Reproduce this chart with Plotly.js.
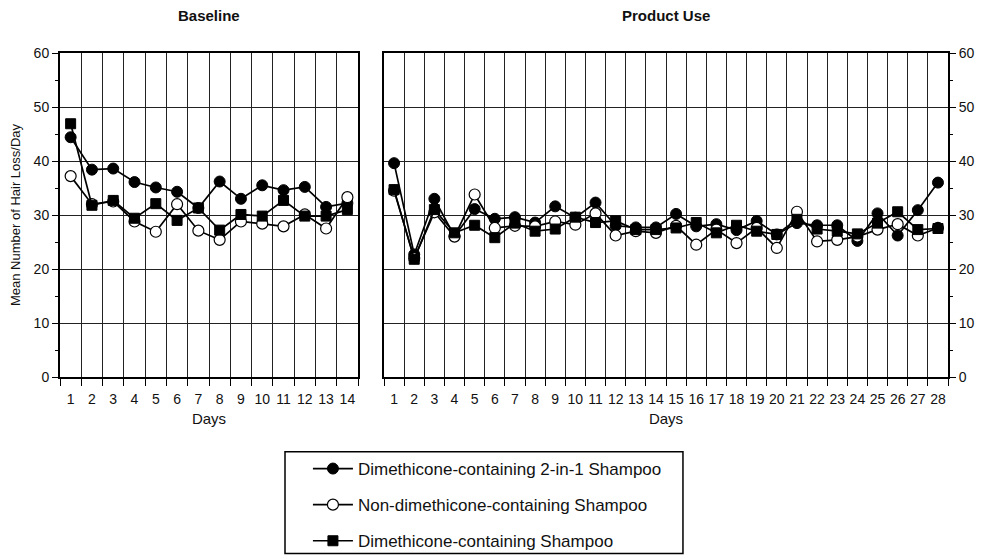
<!DOCTYPE html>
<html>
<head>
<meta charset="utf-8">
<script src="https://cdn.plot.ly/plotly-3.0.1.min.js"></script>
<style>html,body{margin:0;padding:0;background:#fff;}#chart{width:981px;height:559px;}</style>
</head>
<body>
<div id="chart"></div>
<script>
// Baseline period (days 1-14)
const baseDays = [1,2,3,4,5,6,7,8,9,10,11,12,13,14];
const base2in1 = [44.4, 38.4, 38.6, 36.1, 35.1, 34.3, 31.3, 36.2, 33.0, 35.5, 34.6, 35.2, 31.5, 32.2];
const baseNonDim = [37.2, 32.0, 32.5, 28.8, 26.9, 32.0, 27.1, 25.4, 28.8, 28.4, 27.9, 30.1, 27.5, 33.3];
const baseDim = [46.9, 31.8, 32.7, 29.4, 32.1, 29.0, 31.3, 27.2, 30.1, 29.8, 32.7, 29.8, 29.8, 31.0];

// Product use period (days 1-28)
const prodDays = [1,2,3,4,5,6,7,8,9,10,11,12,13,14,15,16,17,18,19,20,21,22,23,24,25,26,27,28];
const prod2in1 = [39.6, 22.7, 33.0, 26.1, 31.1, 29.3, 29.6, 28.6, 31.6, 29.5, 32.3, 28.0, 27.7, 27.7, 30.2, 27.9, 28.3, 27.2, 28.9, 26.4, 28.5, 28.1, 28.1, 25.2, 30.3, 26.2, 30.9, 36.0];
const prodNonDim = [34.5, 22.0, 30.5, 26.0, 33.8, 27.6, 28.0, 27.9, 28.8, 28.2, 30.3, 26.2, 27.0, 26.7, 28.0, 24.5, 27.3, 24.8, 27.6, 23.9, 30.6, 25.1, 25.4, 26.0, 27.3, 28.3, 26.2, 27.6];
const prodDim = [34.7, 21.8, 31.0, 26.7, 28.1, 25.8, 28.5, 27.0, 27.4, 29.6, 28.6, 28.9, 27.3, 27.3, 27.6, 28.6, 26.7, 28.1, 27.0, 26.4, 29.2, 27.4, 27.0, 26.5, 28.5, 30.6, 27.3, 27.5];

const seriesNames = ['Dimethicone-containing 2-in-1 Shampoo', 'Non-dimethicone-containing Shampoo', 'Dimethicone-containing Shampoo'];
const panelTitles = ['Baseline', 'Product Use'];
const yTitle = 'Mean Number of Hair Loss/Day';
const xTitle = 'Days';

const FONT = 'Liberation Sans, Arial, Helvetica, sans-serif';
const lineStyle = {color: '#000', width: 1.7};
const markerStyles = [
  {symbol: 'circle', size: 11, color: '#000', line: {color: '#000', width: 1}},
  {symbol: 'circle', size: 11, color: '#fff', line: {color: '#000', width: 1.2}},
  {symbol: 'square', size: 10, color: '#000', line: {color: '#000', width: 1}}
];

const baseSeries = [base2in1, baseNonDim, baseDim];
const prodSeries = [prod2in1, prodNonDim, prodDim];
const traces = [];
for (let i = 0; i < 3; i++) {
  traces.push({
    x: baseDays, y: baseSeries[i], xaxis: 'x', yaxis: 'y',
    type: 'scatter', mode: 'lines+markers', name: seriesNames[i],
    legendgroup: 'g' + i, showlegend: true,
    line: lineStyle, marker: markerStyles[i], cliponaxis: false
  });
  traces.push({
    x: prodDays, y: prodSeries[i], xaxis: 'x2', yaxis: 'y2',
    type: 'scatter', mode: 'lines+markers', name: seriesNames[i],
    legendgroup: 'g' + i, showlegend: false,
    line: lineStyle, marker: markerStyles[i], cliponaxis: false
  });
}

const tickFont = {family: FONT, size: 14, color: '#111'};
function xAxis(domain, days, anchor) {
  return {
    domain: domain, anchor: anchor, range: [0.5, days.length + 0.5],
    tickmode: 'array', tickvals: days, ticktext: days.map(String),
    ticks: '', showgrid: false, zeroline: false,
    showline: true, linecolor: '#000', linewidth: 2, mirror: true,
    tickfont: tickFont, ticklabelstandoff: 8,
    title: {text: xTitle, font: {family: FONT, size: 15, color: '#111'}, standoff: 8},
    minor: {tickmode: 'linear', tick0: 0.5, dtick: 1, ticks: 'outside', ticklen: 7, tickcolor: '#000', tickwidth: 1,
            showgrid: true, gridcolor: '#222', gridwidth: 1}
  };
}
function yAxis(anchor, side) {
  return {
    anchor: anchor, side: side, range: [0, 60], domain: [0, 1],
    tickmode: 'linear', tick0: 0, dtick: 10, ticks: 'outside', ticklen: 6, tickcolor: '#000', tickwidth: 1,
    showgrid: true, gridcolor: '#222', gridwidth: 1, zeroline: false,
    showline: true, linecolor: '#000', linewidth: 2, mirror: true,
    tickfont: tickFont,
    minor: {tickmode: 'linear', tick0: 0, dtick: 5, ticks: 'outside', ticklen: 3, tickcolor: '#000', showgrid: false}
  };
}

const leftDom = [0, 0.3236];
const rightDom = [0.3518, 0.9642];
const layout = {
  width: 981, height: 559,
  margin: {l: 60, r: 0, t: 53, b: 181},
  paper_bgcolor: '#fff', plot_bgcolor: '#fff',
  font: {family: FONT, color: '#111'},
  xaxis: xAxis(leftDom, baseDays, 'y'),
  xaxis2: xAxis(rightDom, prodDays, 'y2'),
  yaxis: Object.assign(yAxis('x', 'left'), {title: {text: yTitle, font: {family: FONT, size: 13, color: '#111'}, standoff: 10}}),
  yaxis2: yAxis('x2', 'right'),
  showlegend: true,
  legend: {
    x: 0.2692, xanchor: 'left', y: -0.2277, yanchor: 'top',
    bordercolor: 'rgba(0,0,0,0)', borderwidth: 0, bgcolor: 'rgba(0,0,0,0)',
    font: {family: FONT, size: 17, color: '#111'},
    tracegroupgap: 11, itemwidth: 40
  },
  shapes: [
    {type: 'rect', xref: 'paper', yref: 'paper', x0: 0.2443, x1: 0.6764, y0: -0.5446, y1: -0.2308,
     line: {color: '#000', width: 1.5}, fillcolor: 'rgba(0,0,0,0)', layer: 'below'}
  ],
  annotations: [
    {text: '<b>' + panelTitles[0] + '</b>', xref: 'paper', yref: 'paper', x: (leftDom[0] + leftDom[1]) / 2, y: 1.117,
     showarrow: false, font: {family: FONT, size: 15, color: '#111'}, xanchor: 'center', yanchor: 'middle'},
    {text: '<b>' + panelTitles[1] + '</b>', xref: 'paper', yref: 'paper', x: (rightDom[0] + rightDom[1]) / 2, y: 1.117,
     showarrow: false, font: {family: FONT, size: 15, color: '#111'}, xanchor: 'center', yanchor: 'middle'}
  ]
};

Plotly.newPlot('chart', traces, layout, {displayModeBar: false, staticPlot: true});
</script>
</body>
</html>
